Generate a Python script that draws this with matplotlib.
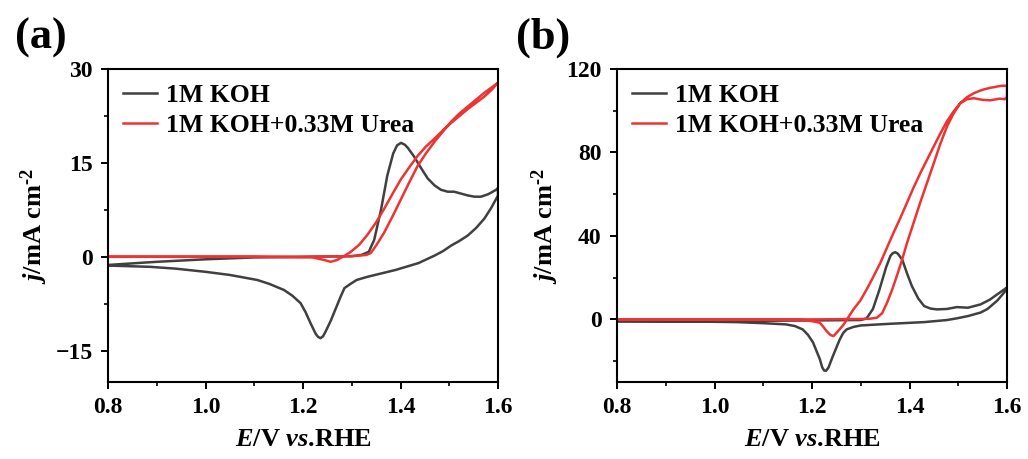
import matplotlib.pyplot as plt
from matplotlib.ticker import MultipleLocator

plt.rcParams["font.family"] = ["Liberation Serif", "DejaVu Serif"]
plt.rcParams["font.weight"] = "bold"
plt.rcParams["axes.labelweight"] = "bold"
plt.rcParams["mathtext.fontset"] = "custom"
plt.rcParams["mathtext.rm"] = "Liberation Serif:bold"
plt.rcParams["mathtext.bf"] = "Liberation Serif:bold"
plt.rcParams["mathtext.it"] = "Liberation Serif:bold:italic"

LABELS = ["1M KOH", "1M KOH+0.33M Urea"]
COLORS = ["#404040", "#EE3333"]

# panel (a): cyclic voltammograms, anodic then cathodic scan
a_koh_E = [0.80, 0.90, 1.00, 1.10, 1.20, 1.30, 1.32, 1.335, 1.346, 1.36, 1.373, 1.385,
           1.393, 1.401, 1.409, 1.415, 1.428, 1.442, 1.456, 1.47, 1.483, 1.497, 1.51,
           1.524, 1.538, 1.552, 1.565, 1.58, 1.596, 1.60,
           1.60, 1.586, 1.572, 1.555, 1.538, 1.52, 1.504, 1.487, 1.47, 1.437, 1.39,
           1.332, 1.31, 1.298, 1.285, 1.277, 1.267, 1.257, 1.246, 1.241, 1.236, 1.231,
           1.226, 1.216, 1.205, 1.195, 1.178, 1.161, 1.13, 1.106, 1.05, 1.00, 0.94,
           0.886, 0.80]
a_koh_j = [-1.3, -0.8, -0.4, -0.1, 0.0, 0.1, 0.3, 0.8, 2.7, 7.5, 13.0, 16.5,
           17.8, 18.2, 17.9, 17.4, 16.0, 14.2, 12.5, 11.4, 10.7, 10.4, 10.4,
           10.1, 9.8, 9.6, 9.6, 10.0, 10.7, 11.0,
           9.8, 7.8, 6.1, 4.6, 3.4, 2.5, 1.8, 0.9, 0.2, -1.0, -2.1,
           -3.2, -3.7, -4.3, -5.0, -6.4, -8.3, -10.2, -12.0, -12.7, -13.0, -12.8,
           -12.3, -10.7, -8.8, -7.4, -6.2, -5.3, -4.3, -3.7, -2.9, -2.4, -1.9,
           -1.6, -1.4]
a_urea_E = [0.80, 1.00, 1.20, 1.30, 1.33, 1.339, 1.35, 1.366, 1.384, 1.401, 1.418,
            1.435, 1.452, 1.47, 1.487, 1.504, 1.521, 1.538, 1.555, 1.572, 1.586, 1.60,
            1.60, 1.586, 1.572, 1.555, 1.538, 1.521, 1.504, 1.487, 1.47, 1.452,
            1.435, 1.418, 1.401, 1.384, 1.366, 1.35, 1.332, 1.315, 1.298, 1.284,
            1.27, 1.257, 1.243, 1.22, 1.10, 1.00, 0.80]
a_urea_j = [0.0, 0.0, 0.0, 0.1, 0.3, 0.6, 1.8, 3.8, 6.5, 9.2, 11.9,
            14.5, 16.5, 18.4, 20.0, 21.6, 22.9, 24.0, 25.1, 26.2, 27.0, 27.8,
            27.8, 26.6, 25.6, 24.6, 23.6, 22.5, 21.4, 20.2, 18.9, 17.6,
            16.1, 14.3, 12.4, 10.1, 7.6, 5.5, 3.5, 1.9, 0.8, 0.1,
            -0.5, -0.8, -0.5, -0.1, 0.0, 0.0, 0.0]

# panel (b)
b_koh_E = [0.80, 1.00, 1.20, 1.30, 1.312, 1.325, 1.338, 1.352, 1.361, 1.366, 1.371,
           1.376, 1.385, 1.395, 1.405, 1.418, 1.43, 1.443, 1.456, 1.477, 1.497, 1.52,
           1.546, 1.565, 1.583, 1.60,
           1.60, 1.58, 1.56, 1.546, 1.52, 1.497, 1.477, 1.43, 1.36, 1.30, 1.285,
           1.271, 1.264, 1.257, 1.25, 1.243, 1.238, 1.234, 1.229, 1.225, 1.221,
           1.216, 1.209, 1.202, 1.192, 1.181, 1.165, 1.147, 1.10, 1.045, 0.95, 0.80]
b_koh_j = [-0.8, -0.8, -0.5, -0.3, 0.5, 5.0, 14.0, 25.0, 30.5, 31.8, 32.2,
           31.5, 28.7, 22.0, 15.9, 10.0, 6.4, 5.2, 4.8, 5.0, 5.9, 5.6,
           7.2, 9.5, 12.5, 15.3,
           14.5, 9.0, 5.0, 3.3, 1.6, 0.5, -0.3, -1.3, -2.1, -2.9, -3.6,
           -4.8, -6.5, -9.6, -13.5, -17.5, -20.5, -23.0, -24.6, -24.5, -23.0,
           -19.0, -15.0, -11.0, -7.5, -4.8, -3.2, -2.4, -1.8, -1.3, -1.0, -0.9]
b_urea_E = [0.80, 1.00, 1.20, 1.30, 1.318, 1.333, 1.344, 1.354, 1.364, 1.374, 1.384,
            1.395, 1.408, 1.422, 1.436, 1.45, 1.463, 1.477, 1.49, 1.504, 1.518, 1.532,
            1.549, 1.566, 1.58, 1.59, 1.60,
            1.60, 1.595, 1.585, 1.566, 1.55, 1.532, 1.518, 1.504, 1.49, 1.477, 1.463,
            1.45, 1.436, 1.422, 1.408, 1.395, 1.381, 1.367, 1.354, 1.34, 1.326, 1.312,
            1.299, 1.285, 1.275, 1.265, 1.254, 1.244, 1.238, 1.23, 1.222, 1.216,
            1.19, 1.10, 0.95, 0.80]
b_urea_j = [0.0, 0.0, 0.0, 0.2, 0.3, 0.8, 3.0, 8.0, 14.0, 20.8, 28.0,
            36.7, 46.0, 56.0, 65.5, 75.0, 84.0, 92.5, 98.5, 103.6, 106.5, 108.4,
            110.0, 111.0, 111.6, 112.0, 111.9,
            106.6, 105.5, 105.8, 105.0, 105.2, 106.0, 105.5, 103.6, 99.5, 95.0, 89.0,
            83.0, 76.5, 70.0, 63.0, 56.0, 48.5, 41.4, 34.5, 27.0, 20.5, 14.3,
            9.0, 4.8, 1.2, -2.4, -5.5, -8.0, -7.5, -5.6, -3.2, -1.6,
            -0.4, 0.0, 0.0, 0.0]

panels = [
    ("(a)", a_koh_E, a_koh_j, a_urea_E, a_urea_j, (-20, 30), 15, 7.5),
    ("(b)", b_koh_E, b_koh_j, b_urea_E, b_urea_j, (-30, 120), 40, 20),
]


def plot():
    fig = plt.figure(figsize=(10.28, 4.59), dpi=100)
    lefts = [108 / 1028, 617 / 1028]
    letter_x = [41 / 1028, 543 / 1028]

    for k, (tag, e1, j1, e2, j2, ylim, major, minor) in enumerate(panels):
        ax = fig.add_axes((lefts[k], 77 / 459, 390 / 1028, 313 / 459))
        ax.plot(e1, j1, color=COLORS[0], lw=1.8, label=LABELS[0])
        ax.plot(e2, j2, color=COLORS[1], lw=1.8, label=LABELS[1])

        ax.set_xlim(0.8, 1.6)
        ax.set_ylim(*ylim)
        ax.xaxis.set_major_locator(MultipleLocator(0.2))
        ax.xaxis.set_minor_locator(MultipleLocator(0.1))
        ax.yaxis.set_major_locator(MultipleLocator(major))
        ax.yaxis.set_minor_locator(MultipleLocator(minor))
        ax.tick_params(which="major", length=5, width=1.4, labelsize=17, pad=6)
        ax.tick_params(which="minor", length=3, width=1.2)
        for lab in ax.get_xticklabels() + ax.get_yticklabels():
            lab.set_fontweight("bold")
        for sp in ax.spines.values():
            sp.set_linewidth(1.5)

        ax.set_xlabel(r"$\mathit{E}$/V $\mathit{vs}$.RHE", fontsize=19,
                      fontweight="bold", labelpad=7)
        ax.set_ylabel(r"$\mathit{j}$/mA cm$^{\text{-2}}$", fontsize=19,
                      fontweight="bold", labelpad=4)

        ax.legend(loc="upper left", frameon=False,
                  handlelength=1.3, handletextpad=0.35, labelspacing=0.25,
                  borderaxespad=0.2, prop={"weight": "bold", "size": 18.5})

        fig.text(letter_x[k], 1 - 38 / 459, tag, fontsize=32, fontweight="bold",
                 ha="center", va="center")

    fig.savefig("out.png", dpi=100)
    plt.close(fig)


if __name__ == "__main__":
    plot()
